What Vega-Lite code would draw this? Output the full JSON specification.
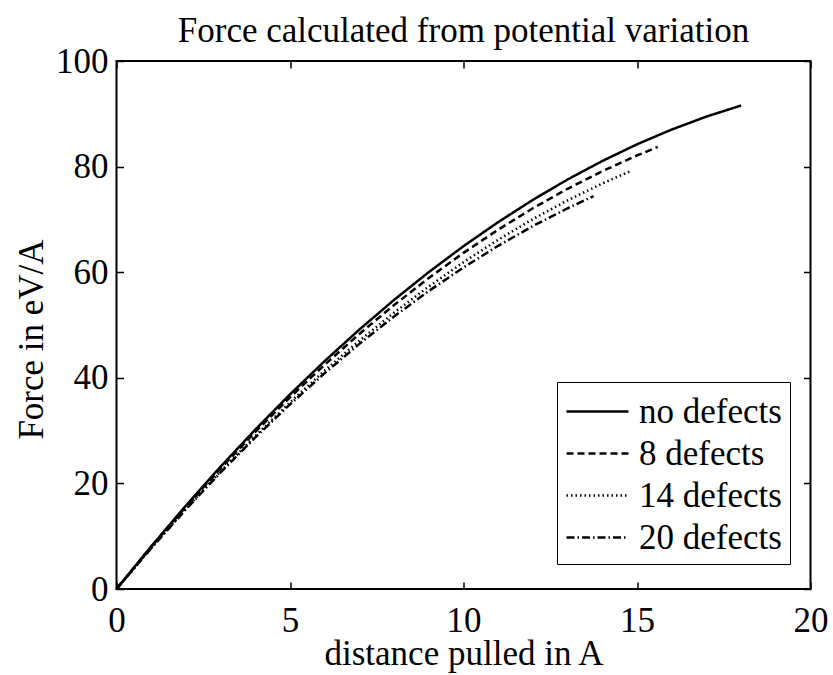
{
  "$schema": "https://vega.github.io/schema/vega-lite/v6.json",
  "width": 694,
  "height": 528,
  "autosize": "none",
  "padding": {"left": 116.5, "top": 61, "right": 22.5, "bottom": 86},
  "background": "white",
  "config": {
    "font": "Liberation Serif",
    "view": {"stroke": "black", "strokeWidth": 2}
  },
  "title": {
    "text": "Force calculated from potential variation",
    "font": "Liberation Serif",
    "fontSize": 35,
    "fontWeight": "normal",
    "color": "black",
    "anchor": "middle",
    "frame": "group",
    "baseline": "bottom",
    "offset": 0,
    "dy": 40
  },
  "data": {
    "values": [
      {"series": "no defects", "distance": 0, "force": 0},
      {"series": "no defects", "distance": 1, "force": 8.07},
      {"series": "no defects", "distance": 2, "force": 15.8},
      {"series": "no defects", "distance": 3, "force": 23.17},
      {"series": "no defects", "distance": 4, "force": 30.19},
      {"series": "no defects", "distance": 5, "force": 36.86},
      {"series": "no defects", "distance": 6, "force": 43.17},
      {"series": "no defects", "distance": 7, "force": 49.14},
      {"series": "no defects", "distance": 8, "force": 54.76},
      {"series": "no defects", "distance": 9, "force": 60.02},
      {"series": "no defects", "distance": 10, "force": 64.93},
      {"series": "no defects", "distance": 11, "force": 69.49},
      {"series": "no defects", "distance": 12, "force": 73.7},
      {"series": "no defects", "distance": 13, "force": 77.56},
      {"series": "no defects", "distance": 14, "force": 81.06},
      {"series": "no defects", "distance": 15, "force": 84.22},
      {"series": "no defects", "distance": 16, "force": 87.02},
      {"series": "no defects", "distance": 17, "force": 89.47},
      {"series": "no defects", "distance": 18, "force": 91.57},
      {"series": "8 defects", "distance": 0, "force": 0},
      {"series": "8 defects", "distance": 1, "force": 7.97},
      {"series": "8 defects", "distance": 2, "force": 15.59},
      {"series": "8 defects", "distance": 3, "force": 22.84},
      {"series": "8 defects", "distance": 4, "force": 29.75},
      {"series": "8 defects", "distance": 5, "force": 36.29},
      {"series": "8 defects", "distance": 6, "force": 42.48},
      {"series": "8 defects", "distance": 7, "force": 48.31},
      {"series": "8 defects", "distance": 8, "force": 53.78},
      {"series": "8 defects", "distance": 9, "force": 58.9},
      {"series": "8 defects", "distance": 10, "force": 63.66},
      {"series": "8 defects", "distance": 11, "force": 68.06},
      {"series": "8 defects", "distance": 12, "force": 72.11},
      {"series": "8 defects", "distance": 13, "force": 75.8},
      {"series": "8 defects", "distance": 14, "force": 79.13},
      {"series": "8 defects", "distance": 15, "force": 82.11},
      {"series": "8 defects", "distance": 15.6, "force": 83.72},
      {"series": "14 defects", "distance": 0, "force": 0},
      {"series": "14 defects", "distance": 1, "force": 7.77},
      {"series": "14 defects", "distance": 2, "force": 15.2},
      {"series": "14 defects", "distance": 3, "force": 22.27},
      {"series": "14 defects", "distance": 4, "force": 28.98},
      {"series": "14 defects", "distance": 5, "force": 35.35},
      {"series": "14 defects", "distance": 6, "force": 41.36},
      {"series": "14 defects", "distance": 7, "force": 47.03},
      {"series": "14 defects", "distance": 8, "force": 52.34},
      {"series": "14 defects", "distance": 9, "force": 57.29},
      {"series": "14 defects", "distance": 10, "force": 61.9},
      {"series": "14 defects", "distance": 11, "force": 66.15},
      {"series": "14 defects", "distance": 12, "force": 70.06},
      {"series": "14 defects", "distance": 13, "force": 73.61},
      {"series": "14 defects", "distance": 14, "force": 76.8},
      {"series": "14 defects", "distance": 14.85, "force": 79.25},
      {"series": "20 defects", "distance": 0, "force": 0},
      {"series": "20 defects", "distance": 1, "force": 7.72},
      {"series": "20 defects", "distance": 2, "force": 15.08},
      {"series": "20 defects", "distance": 3, "force": 22.07},
      {"series": "20 defects", "distance": 4, "force": 28.7},
      {"series": "20 defects", "distance": 5, "force": 34.97},
      {"series": "20 defects", "distance": 6, "force": 40.88},
      {"series": "20 defects", "distance": 7, "force": 46.43},
      {"series": "20 defects", "distance": 8, "force": 51.62},
      {"series": "20 defects", "distance": 9, "force": 56.44},
      {"series": "20 defects", "distance": 10, "force": 60.9},
      {"series": "20 defects", "distance": 11, "force": 65.0},
      {"series": "20 defects", "distance": 12, "force": 68.74},
      {"series": "20 defects", "distance": 13, "force": 72.11},
      {"series": "20 defects", "distance": 13.75, "force": 74.41}
    ]
  },
  "layer": [
    {
      "mark": {"type": "line", "strokeWidth": 2.5, "color": "black"},
      "encoding": {
        "x": {
          "field": "distance", "type": "quantitative",
          "scale": {"domain": [0, 20], "nice": false, "zero": false},
          "axis": {
            "orient": "bottom", "values": [0, 5, 10, 15, 20], "domain": false, "grid": false,
            "tickSize": -7, "tickWidth": 1.5, "tickColor": "black",
            "labelFont": "Liberation Serif", "labelFontSize": 35, "labelColor": "black", "labelPadding": 21,
            "labelFlush": false, "labelOverlap": false,
            "title": "distance pulled in A", "titleFont": "Liberation Serif", "titleFontSize": 35,
            "titleFontWeight": "normal", "titleColor": "black", "titleY": 75, "titleBaseline": "alphabetic"
          }
        },
        "y": {
          "field": "force", "type": "quantitative",
          "scale": {"domain": [0, 100], "nice": false},
          "axis": {
            "orient": "left", "values": [0, 20, 40, 60, 80, 100], "domain": false, "grid": false,
            "tickSize": -7, "tickWidth": 1.5, "tickColor": "black",
            "labelFont": "Liberation Serif", "labelFontSize": 35, "labelColor": "black", "labelPadding": 15.5,
            "labelFlush": false, "labelOverlap": false,
            "title": "Force in eV/A", "titleFont": "Liberation Serif", "titleFontSize": 35,
            "titleFontWeight": "normal", "titleColor": "black", "titleX": -74.5, "titleY": 278,
            "titleBaseline": "alphabetic", "titleAngle": -90
          }
        },
        "strokeDash": {
          "field": "series", "type": "nominal",
          "scale": {
            "domain": ["no defects", "8 defects", "14 defects", "20 defects"],
            "range": [[1, 0], [7, 4], [1.5, 3], [8, 3, 1.5, 3]]
          },
          "legend": {
            "title": null, "orient": "none", "legendX": 440.5, "legendY": 321,
            "symbolType": "M-1.55,0H1.55", "symbolSize": 1600, "symbolStrokeWidth": 2.5,
            "symbolStrokeColor": "black", "symbolFillColor": "transparent", "symbolOffset": 11,
            "labelFont": "Liberation Serif", "labelFontSize": 35, "labelColor": "black",
            "labelOffset": 20, "rowPadding": 2, "padding": 8,
            "strokeColor": "black", "fillColor": "white"
          }
        },
        "order": {"field": "distance", "type": "quantitative"}
      }
    },
    {
      "mark": {"type": "line", "opacity": 0},
      "encoding": {
        "x": {
          "field": "distance", "type": "quantitative",
          "axis": {"orient": "top", "values": [0, 5, 10, 15, 20], "domain": false, "grid": false,
            "labels": false, "title": null, "tickSize": -7, "tickWidth": 1.5, "tickColor": "black"}
        },
        "y": {
          "field": "force", "type": "quantitative",
          "axis": {"orient": "right", "values": [0, 20, 40, 60, 80, 100], "domain": false, "grid": false,
            "labels": false, "title": null, "tickSize": -7, "tickWidth": 1.5, "tickColor": "black"}
        },
        "detail": {"field": "series", "type": "nominal"}
      }
    }
  ],
  "resolve": {"axis": {"x": "independent", "y": "independent"}}
}
